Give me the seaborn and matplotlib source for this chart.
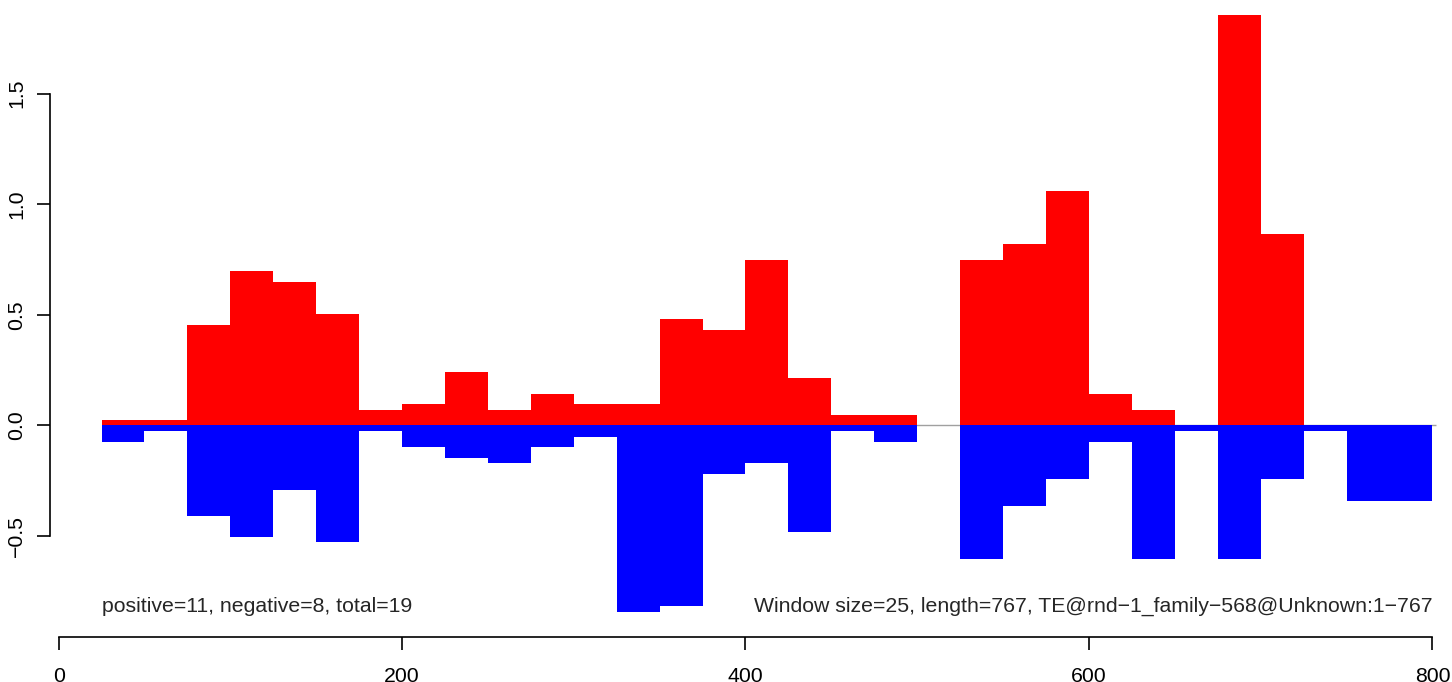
import matplotlib
matplotlib.use('Agg')
import matplotlib.pyplot as plt
import seaborn as sns

# windows of 25 along the TE, start coordinate of each window
window_size = 25
window_start = [25, 50, 75, 100, 125, 150, 175, 200, 225, 250, 275, 300, 325, 350, 375,
                400, 425, 450, 475, 500, 525, 550, 575, 600, 625, 650, 675, 700, 725, 750, 775]
positive = [0.024, 0.024, 0.456, 0.697, 0.647, 0.503, 0.069, 0.096, 0.240, 0.069, 0.142,
            0.096, 0.096, 0.480, 0.430, 0.747, 0.214, 0.048, 0.048, 0.0, 0.748, 0.820,
            1.060, 0.143, 0.071, 0.0, 1.855, 0.866, 0.0, 0.0, 0.0]
negative = [-0.075, -0.025, -0.411, -0.506, -0.290, -0.529, -0.025, -0.096, -0.146, -0.168,
            -0.096, -0.053, -0.844, -0.817, -0.219, -0.168, -0.483, -0.025, -0.075, 0.0,
            -0.603, -0.364, -0.242, -0.075, -0.603, -0.025, -0.603, -0.242, -0.025, -0.340, -0.340]

x_ticks = [0, 200, 400, 600, 800]
y_ticks = [-0.5, 0.0, 0.5, 1.0, 1.5]
y_tick_labels = ['\u22120.5', '0.0', '0.5', '1.0', '1.5']
note_left = 'positive=11, negative=8, total=19'
note_right = 'Window size=25, length=767, TE@rnd\u22121_family\u2212568@Unknown:1\u2212767'

sns.set_style('ticks')
plt.rcParams['font.family'] = ['Liberation Sans', 'DejaVu Sans']

fig = plt.figure(figsize=(14.52, 6.82), dpi=100)
ax = fig.add_axes([50 / 1452, (682 - 636.5) / 682, (1441 - 50) / 1452, 636.5 / 682])

centres = [s + window_size / 2 for s in window_start]
x_end = window_start[-1] + window_size

ax.hlines(0, window_start[0], x_end + 2, color='#a0a0a0', lw=1, zorder=0)
sns.barplot(x=centres, y=positive, native_scale=True, width=1, orient='x',
            color='#ff0000', saturation=1, linewidth=0, errorbar=None, ax=ax)
sns.barplot(x=centres, y=negative, native_scale=True, width=1, orient='x',
            color='#0000ff', saturation=1, linewidth=0, errorbar=None, ax=ax)

# notes sit on the baseline of the lowest bar
y_note = min(negative)
ax.text(window_start[0], y_note, note_left, ha='left', va='baseline', fontsize=15.3)
ax.text(x_end, y_note, note_right, ha='right', va='baseline', fontsize=15.3)

ax.set_xlim(-5, 805)
ax.set_ylim(-0.954, 1.923)
ax.set_xticks(x_ticks)
ax.set_xticklabels([str(t) for t in x_ticks])
ax.set_yticks(y_ticks)
ax.set_yticklabels(y_tick_labels)
ax.set_xlabel('')
ax.set_ylabel('')

sns.despine(ax=ax)
ax.spines['left'].set_bounds(-0.5, 1.5)
ax.spines['bottom'].set_bounds(0, 800)
for s in ['left', 'bottom']:
    ax.spines[s].set_linewidth(1.2)
    ax.spines[s].set_color('black')
ax.tick_params(axis='both', length=9.3, width=1.2, labelsize=15.3, colors='black')
ax.tick_params(axis='x', pad=12.5)
ax.tick_params(axis='y', pad=7.8, labelrotation=90)
plt.setp(ax.get_yticklabels(), va='center')

fig.savefig('out.png', dpi=100)
